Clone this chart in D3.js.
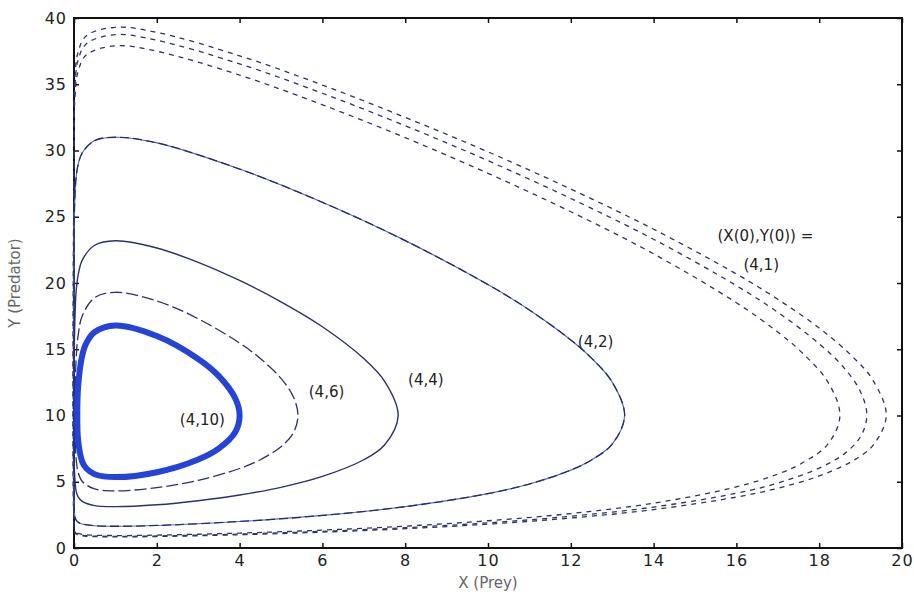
<!DOCTYPE html>
<html>
<head>
<meta charset="utf-8">
<script src="https://cdn.jsdelivr.net/npm/d3@7"></script>
<style>
  body { margin: 0; background: #fff; }
  svg { display: block; }
  .tick text { font-family: "DejaVu Sans", sans-serif; font-size: 16px; fill: #222; letter-spacing: 1px; }
  .lbl { font-family: "DejaVu Sans", sans-serif; font-size: 15px; fill: #222; }
  .axtitle { font-family: "DejaVu Sans", sans-serif; font-size: 15px; fill: #666; }
</style>
</head>
<body>
<div id="chart"></div>
<script>
// orbits, [x (prey), y (predator)]
const orbit4_10 = [[0.08,10],[0.1,12.2],[0.2,14.55],[0.3,15.48],[0.5,16.3],[1,16.8],[2,16.0],[3,14.27],[3.5,12.97],[3.9,11.27],[4,10],[3.9,8.78],[3.5,7.52],[3,6.68],[2,5.72],[1,5.35],[0.5,5.57],[0.3,6.0],[0.2,6.5],[0.1,8.1]];

const orbit4_6 = [[0.025,10],[0.03,12.05],[0.05,14.15],[0.1,16.05],[0.2,17.52],[0.5,18.9],[1,19.3],[2,18.65],[3,17.3],[4,15.47],[4.5,14.3],[5,12.8],[5.3,11.4],[5.41,10],[5.3,8.7],[5,7.65],[4.5,6.66],[4,6.0],[3,5.11],[2,4.56],[1,4.31],[0.5,4.46],[0.2,5.02],[0.1,5.7],[0.05,6.76],[0.03,8.2]];

const orbit4_4 = [[0.003,10],[0.01,15.63],[0.05,19.32],[0.1,20.6],[0.2,21.73],[0.5,22.85],[1,23.19],[2,22.64],[3,21.56],[4,20.19],[5,18.58],[6,16.7],[7,14.3],[7.5,12.6],[7.83,10],[7.5,7.77],[7,6.66],[6,5.4],[5,4.58],[4,4.0],[3,3.57],[2,3.26],[1,3.12],[0.5,3.2],[0.2,3.52],[0.1,3.86],[0.05,4.31],[0.01,5.92]];

const orbit4_2 = [[0.001,3.61],[0.001,21.41],[0.01,25.42],[0.05,27.93],[0.1,28.93],[0.2,29.83],[0.5,30.75],[1,31.0],[2,30.58],[4,28.6],[6,26.09],[8,23.2],[10,19.88],[11,17.96],[12,15.7],[12.5,14.33],[13,12.52],[13.3,10],[13,7.84],[12.5,6.64],[12,5.88],[11,4.83],[10,4.1],[8,3.12],[6,2.455],[4,2.0],[2,1.7],[1,1.64],[0.5,1.68],[0.2,1.81],[0.1,1.95],[0.05,2.11],[0.01,2.59]];

// (4,1) was drawn three times, each run drifting a little outward
const orbit4_1a = [[0.001,1.64],[0.001,31.0],[0.02,35.33],[0.1,37.44],[0.3,38.66],[1,39.3],[2,38.92],[4,37.15],[6,34.94],[8,32.5],[10,29.9],[12,27.09],[14,24.06],[16,20.68],[17,18.77],[18,16.6],[18.8,14.46],[19.3,12.65],[19.62,10],[19.3,7.75],[18.8,6.56],[18,5.44],[17,4.51],[16,3.84],[14,2.9],[12,2.262],[10,1.8],[8,1.457],[6,1.196],[4,1.0],[2,0.866],[1,0.84],[0.3,0.885],[0.1,0.977],[0.02,1.16]];

const orbit4_1b = [[0.001,1.73],[0.001,30.41],[0.02,34.71],[0.1,36.83],[0.3,38.06],[1,38.75],[2,38.32],[4,36.54],[6,34.32],[8,31.87],[10,29.23],[12,26.38],[14,23.3],[16,19.8],[17,17.79],[18,15.41],[18.6,13.6],[19,11.78],[19.15,10],[19,8.41],[18.6,7.1],[18,6.03],[17,4.9],[16,4.13],[14,3.09],[12,2.396],[10,1.9],[8,1.535],[6,1.258],[4,1.05],[2,0.909],[1,0.88],[0.3,0.929],[0.1,1.026],[0.02,1.219]];

const orbit4_1c = [[0.001,1.86],[0.001,29.49],[0.02,33.84],[0.1,35.98],[0.3,37.22],[1,37.9],[2,37.49],[4,35.69],[6,33.45],[8,30.97],[10,28.28],[12,25.38],[14,22.2],[16,18.51],[17,16.3],[17.6,14.7],[18.2,12.58],[18.5,10],[18.2,7.8],[17.6,6.43],[17,5.58],[16,4.61],[14,3.383],[12,2.6],[10,2.055],[8,1.65],[6,1.35],[4,1.126],[2,0.973],[1,0.94],[0.3,0.994],[0.1,1.099],[0.02,1.308]];

const xTicks = [0, 2, 4, 6, 8, 10, 12, 14, 16, 18, 20];
const yTicks = [0, 5, 10, 15, 20, 25, 30, 35, 40];

// label text and where it sits (data units)
const labels = [
  { text: "(4,10)", x: 3.1, y: 9.3 },
  { text: "(4,6)", x: 6.1, y: 11.4 },
  { text: "(4,4)", x: 8.5, y: 12.3 },
  { text: "(4,2)", x: 12.6, y: 15.2 },
  { text: "(X(0),Y(0)) =", x: 16.7, y: 23.2 },
  { text: "(4,1)", x: 16.6, y: 21.0 }
];

const W = 914, H = 599;
const margin = { top: 18, right: 12, bottom: 51, left: 74 };
const width = W - margin.left - margin.right;
const height = H - margin.top - margin.bottom;

const svg = d3.select("#chart").append("svg")
  .attr("width", W)
  .attr("height", H);

const g = svg.append("g")
  .attr("transform", `translate(${margin.left},${margin.top})`);

const x = d3.scaleLinear().domain([0, 20]).range([0, width]);
const y = d3.scaleLinear().domain([0, 40]).range([height, 0]);

// axes, ticks pointing inward
g.append("g")
  .attr("transform", `translate(0,${height})`)
  .call(d3.axisBottom(x).tickValues(xTicks).tickSize(-5).tickPadding(7))
  .call((s) => s.select(".domain").remove());
g.append("g")
  .call(d3.axisLeft(y).tickValues(yTicks).tickSize(-5).tickPadding(7))
  .call((s) => s.select(".domain").remove());
g.append("g")
  .call(d3.axisTop(x).tickValues(xTicks).tickSize(-5).tickFormat(""))
  .call((s) => s.select(".domain").remove());
g.append("g")
  .attr("transform", `translate(${width},0)`)
  .call(d3.axisRight(y).tickValues(yTicks).tickSize(-5).tickFormat(""))
  .call((s) => s.select(".domain").remove());
g.selectAll(".tick line").attr("stroke", "#111").attr("stroke-width", 1.5);

g.append("rect")
  .attr("width", width)
  .attr("height", height)
  .attr("fill", "none")
  .attr("stroke", "#111")
  .attr("stroke-width", 2);

const line = d3.line()
  .x((d) => x(d[0]))
  .y((d) => y(d[1]))
  .curve(d3.curveCatmullRomClosed.alpha(0.5));

const orbits = [
  { data: orbit4_1a, color: "#2f3368", w: 1.3, dash: "5,5" },
  { data: orbit4_1b, color: "#2f3368", w: 1.3, dash: "5,5" },
  { data: orbit4_1c, color: "#2f3368", w: 1.3, dash: "5,5" },
  { data: orbit4_2, color: "#5a68c8", w: 1.2, dash: null },
  { data: orbit4_2, color: "#262c66", w: 1.3, dash: "9,4" },
  { data: orbit4_4, color: "#2a3070", w: 1.4, dash: null },
  { data: orbit4_6, color: "#2a3070", w: 1.3, dash: "12,4" },
  { data: orbit4_10, color: "#2543d6", w: 6, dash: null }
];

g.selectAll(".orbit")
  .data(orbits)
  .enter()
  .append("path")
  .attr("class", "orbit")
  .attr("d", (d) => line(d.data))
  .attr("fill", "none")
  .attr("stroke", (d) => d.color)
  .attr("stroke-width", (d) => d.w)
  .attr("stroke-dasharray", (d) => d.dash);

g.selectAll(".lbl")
  .data(labels)
  .enter()
  .append("text")
  .attr("class", "lbl")
  .attr("x", (d) => x(d.x))
  .attr("y", (d) => y(d.y))
  .attr("text-anchor", "middle")
  .text((d) => d.text);

svg.append("text")
  .attr("class", "axtitle")
  .attr("x", margin.left + width / 2)
  .attr("y", 588)
  .attr("text-anchor", "middle")
  .text("X (Prey)");

svg.append("text")
  .attr("class", "axtitle")
  .attr("transform", `translate(20,${margin.top + height / 2}) rotate(-90)`)
  .attr("text-anchor", "middle")
  .text("Y (Predator)");
</script>
</body>
</html>
